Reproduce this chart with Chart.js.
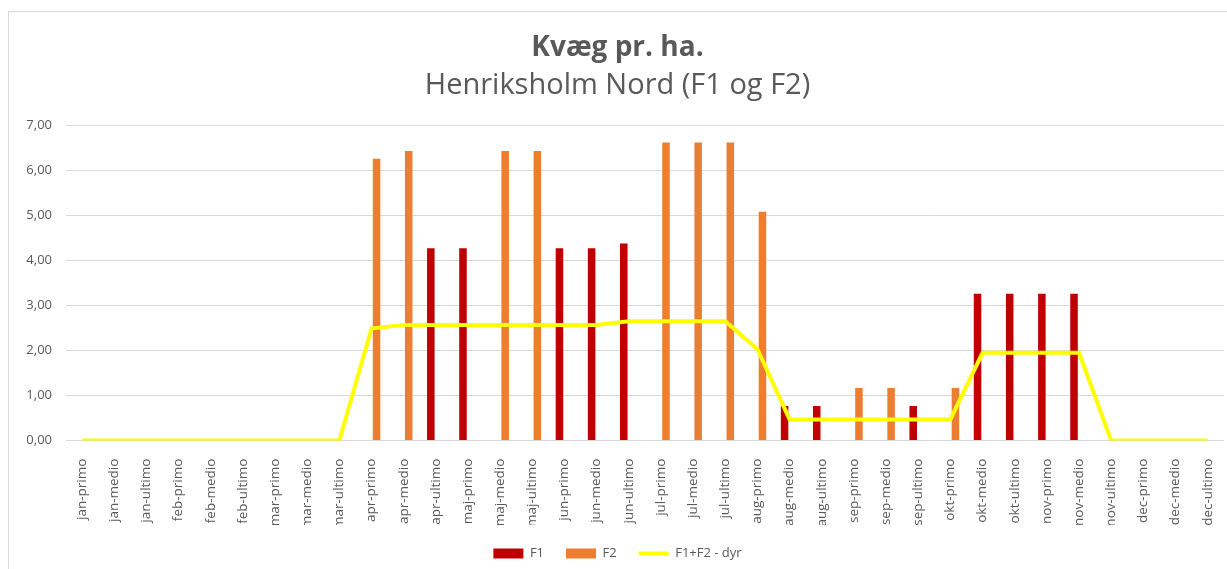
<!DOCTYPE html>
<html>
<head>
<meta charset="utf-8">
<script src="https://cdn.jsdelivr.net/npm/chart.js@4"></script>
<style>
  html, body { margin: 0; padding: 0; background: #fff; }
  #wrap {
    position: absolute; left: 8px; top: 11px;
    width: 1225px; height: 564px;
    border: 1px solid #d9d9d9;
    background: #fff;
  }
</style>
</head>
<body>
<div id="wrap"><canvas id="chart"></canvas></div>
<script>
// Kategorier (halvmåneder)
const kategorier = [
  'jan-primo', 'jan-medio', 'jan-ultimo', 'feb-primo', 'feb-medio', 'feb-ultimo',
  'mar-primo', 'mar-medio', 'mar-ultimo', 'apr-primo', 'apr-medio', 'apr-ultimo',
  'maj-primo', 'maj-medio', 'maj-ultimo', 'jun-primo', 'jun-medio', 'jun-ultimo',
  'jul-primo', 'jul-medio', 'jul-ultimo', 'aug-primo', 'aug-medio', 'aug-ultimo',
  'sep-primo', 'sep-medio', 'sep-ultimo', 'okt-primo', 'okt-medio', 'okt-ultimo',
  'nov-primo', 'nov-medio', 'nov-ultimo', 'dec-primo', 'dec-medio', 'dec-ultimo'
];

// F1 - kvæg pr. ha.
const f1 = [
  null, null, null, null, null, null,
  null, null, null, null, null, 4.27,
  4.27, null, null, 4.27, 4.27, 4.38,
  null, null, null, null, 0.77, 0.77,
  null, null, 0.77, null, 3.26, 3.26,
  3.26, 3.26, null, null, null, null
];

// F2 - kvæg pr. ha.
const f2 = [
  null, null, null, null, null, null,
  null, null, null, 6.26, 6.43, null,
  null, 6.43, 6.43, null, null, null,
  6.62, 6.62, 6.62, 5.08, null, null,
  1.17, 1.17, null, 1.17, null, null,
  null, null, null, null, null, null
];

// F1+F2 - dyr
const samlet = [
  0, 0, 0, 0, 0, 0,
  0, 0, 0, 2.49, 2.57, 2.57,
  2.57, 2.57, 2.57, 2.57, 2.57, 2.65,
  2.65, 2.65, 2.65, 2.03, 0.47, 0.47,
  0.47, 0.47, 0.47, 0.47, 1.95, 1.95,
  1.95, 1.95, 0, 0, 0, 0
];

const yTicks = [0, 1, 2, 3, 4, 5, 6, 7];

const tekstFarve = '#595959';
const fontNavn = "'Open Sans', 'Liberation Sans', sans-serif";

const ctx = document.getElementById('chart').getContext('2d');
new Chart(ctx, {
  data: {
    labels: kategorier,
    datasets: [
      {
        type: 'bar',
        label: 'F1',
        data: f1,
        backgroundColor: '#C00000',
        pointStyle: 'rect',
        order: 1
      },
      {
        type: 'bar',
        label: 'F2',
        data: f2,
        backgroundColor: '#ED7D31',
        pointStyle: 'rect',
        order: 1
      },
      {
        type: 'line',
        label: 'F1+F2 - dyr',
        data: samlet,
        borderColor: '#FFFF00',
        backgroundColor: '#FFFF00',
        borderWidth: 4,
        pointRadius: 0,
        tension: 0,
        pointStyle: 'line',
        order: 0
      }
    ]
  },
  options: {
    responsive: true,
    maintainAspectRatio: false,
    animation: false,
    categoryPercentage: 0.625,
    barPercentage: 0.75,
    layout: { padding: { left: 0, right: 8, top: 11, bottom: 6 } },
    plugins: {
      title: {
        display: true,
        text: 'Kvæg pr. ha.',
        color: tekstFarve,
        font: { family: fontNavn, size: 28, weight: 'bold' },
        padding: { top: 8, bottom: 0 }
      },
      subtitle: {
        display: true,
        text: 'Henriksholm Nord (F1 og F2)',
        color: tekstFarve,
        font: { family: fontNavn, size: 29, weight: 'normal' },
        padding: { top: 4, bottom: 22 }
      },
      legend: {
        position: 'bottom',
        labels: {
          color: tekstFarve,
          font: { family: fontNavn, size: 13 },
          usePointStyle: true,
          pointStyleWidth: 30,
          boxHeight: 10,
          padding: 22,
          sort: (a, b) => a.datasetIndex - b.datasetIndex
        }
      },
      tooltip: { enabled: false }
    },
    scales: {
      x: {
        grid: { display: false },
        border: { display: false },
        afterFit: (scale) => { scale.height = scale.height - 14; },
        ticks: {
          color: tekstFarve,
          font: { family: fontNavn, size: 13.5 },
          minRotation: 90,
          maxRotation: 90,
          autoSkip: false,
          padding: 10
        }
      },
      y: {
        min: 0,
        max: 7,
        afterBuildTicks: (scale) => {
          scale.ticks = yTicks.map(v => ({ value: v }));
        },
        afterFit: (scale) => { scale.width = 57; },
        grid: { color: '#d9d9d9', drawTicks: false },
        border: { display: false },
        ticks: {
          color: tekstFarve,
          font: { family: fontNavn, size: 13 },
          padding: 14,
          callback: (v) => Number(v).toFixed(2).replace('.', ',')
        }
      }
    }
  }
});
</script>
</body>
</html>
